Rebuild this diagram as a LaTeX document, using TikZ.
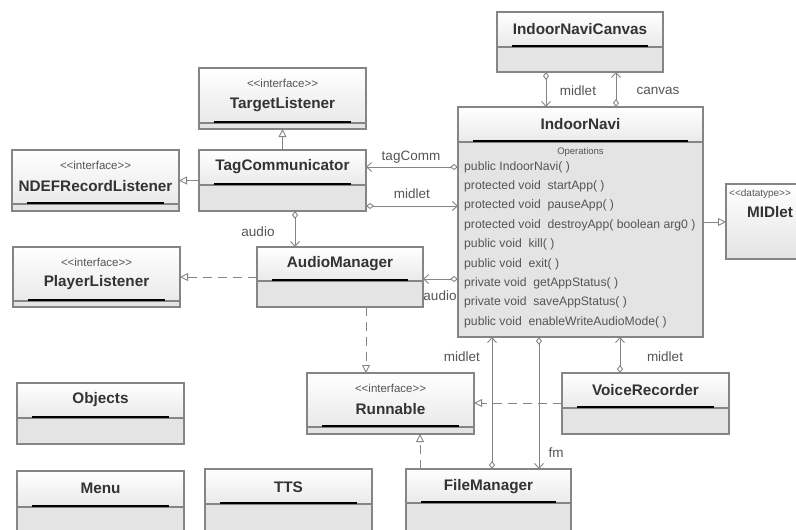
\documentclass[tikz,border=0pt]{standalone}
\usepackage{fontspec}
\setmainfont{Liberation Sans}
\usetikzlibrary{arrows.meta,calc,positioning}

\definecolor{boxgray}{HTML}{E4E4E4}
\definecolor{linegray}{HTML}{858585}
\definecolor{textgray}{HTML}{555555}

\tikzset{
  classbox/.style={draw=linegray, line width=1.2pt, fill=boxgray, anchor=north west,
    inner sep=0pt, outer sep=0pt},
  classname/.style={font=\fontsize{15.3}{17}\selectfont\bfseries, text=black!80},
  stereo/.style={font=\fontsize{11.5}{13}\selectfont, text=textgray},
  method/.style={font=\fontsize{12.2}{14}\selectfont, text=textgray, anchor=west, inner sep=0pt},
  rolelabel/.style={font=\fontsize{13.5}{15}\selectfont, text=textgray},
  conn/.style={draw=linegray, line width=0.9pt},
  assoc/.style={conn, {Diamond[open,fill=white,length=8pt,width=6pt]}-{Straight Barb[length=5pt,width=9pt]}},
  inherit/.style={conn, -{Triangle[open,fill=white,length=8pt,width=8pt]}},
  realize/.style={inherit, dash pattern=on 9pt off 6pt}
}

% box with name part of height #6
\newcommand{\umlbox}[6]{%
  \node[classbox, minimum width=#4pt, minimum height=#5pt] (#1) at (#2,#3) {};
  \shade[top color=white, bottom color=boxgray!80] (#1.north west) rectangle ($(#1.north east)+(0,#6)$);
  \draw[linegray, line width=1.2pt] ($(#1.north west)+(0,#6)$) -- ($(#1.north east)+(0,#6)$);
  \draw[line width=2.6pt] ($(#1.north west)+(15,#6-1.2)$) -- ($(#1.north east)+(-15,#6-1.2)$);
  \draw[linegray, line width=1.2pt] (#1.north west) rectangle (#1.south east);
}

\begin{document}
\begin{tikzpicture}[x=1pt,y=-1pt]
  \useasboundingbox[fill=white] (0,0) rectangle (796,530);

  % classes
  \umlbox{canvas}{497}{12}{166}{60}{35}
  \node[classname] (canvas-name) at ($(canvas.north)+(0,17)$) {IndoorNaviCanvas};

  \umlbox{navi}{458}{107}{245}{230}{35}
  \node[classname] (navi-name) at ($(navi.north)+(0,17)$) {IndoorNavi};
  \node[stereo, font=\fontsize{9.5}{11}\selectfont] (navi-ops) at ($(navi.north)+(0,45)$) {Operations};
  \foreach \m [count=\i] in {public IndoorNavi( ),
      protected void\ \ startApp( ),
      protected void\ \ pauseApp( ),
      protected void\ \ destroyApp( boolean arg0 ),
      public void\ \ kill( ),
      public void\ \ exit( ),
      private void\ \ getAppStatus( ),
      private void\ \ saveAppStatus( ),
      public void\ \ enableWriteAudioMode( )}
    \node[method] (navi-m\i) at ($(navi.north west)+(6,60+19.4*\i-19.4)$) {\m};

  \umlbox{target}{199}{68}{167}{61}{55}
  \node[stereo] (target-st) at ($(target.north)+(0,15.5)$) {{<}{<}interface{>}{>}};
  \node[classname] (target-name) at ($(target.north)+(0,36.5)$) {TargetListener};

  \umlbox{tagcomm}{199}{150}{167}{61}{35}
  \node[classname] (tagcomm-name) at ($(tagcomm.north)+(0,17)$) {TagCommunicator};

  \umlbox{ndef}{12}{150}{167}{61}{54}
  \node[stereo] (ndef-st) at ($(ndef.north)+(0,15.5)$) {{<}{<}interface{>}{>}};
  \node[classname] (ndef-name) at ($(ndef.north)+(0,36.5)$) {NDEFRecordListener};

  \umlbox{audio}{257}{247}{166}{60}{34}
  \node[classname] (audio-name) at ($(audio.north)+(0,16.5)$) {AudioManager};

  \umlbox{player}{13}{247}{167}{60}{54}
  \node[stereo] (player-st) at ($(player.north)+(0,15)$) {{<}{<}interface{>}{>}};
  \node[classname] (player-name) at ($(player.north)+(0,35.5)$) {PlayerListener};

  \umlbox{runnable}{307}{373}{167}{61}{54}
  \node[stereo] (runnable-st) at ($(runnable.north)+(0,15)$) {{<}{<}interface{>}{>}};
  \node[classname] (runnable-name) at ($(runnable.north)+(0,36)$) {Runnable};

  \umlbox{voice}{562}{373}{167}{61}{35}
  \node[classname] (voice-name) at ($(voice.north)+(0,17.5)$) {VoiceRecorder};

  \umlbox{objects}{17}{383}{167}{61}{35}
  \node[classname] (objects-name) at ($(objects.north)+(0,17)$) {Objects};

  \umlbox{menu}{17}{471}{167}{72}{36}
  \node[classname] (menu-name) at ($(menu.north)+(0,17)$) {Menu};

  \umlbox{tts}{205}{469}{167}{72}{35}
  \node[classname] (tts-name) at ($(tts.north)+(0,18)$) {TTS};

  \umlbox{files}{406}{469}{165}{72}{34}
  \node[classname] (files-name) at ($(files.north)+(0,18)$) {FileManager};

  % datatype, no compartments
  \node[classbox, minimum width=88pt, minimum height=75pt] (midlet) at (726,184) {};
  \shade[top color=white, bottom color=boxgray] (midlet.north west) rectangle (midlet.south east);
  \draw[linegray, line width=1.2pt] (midlet.north west) rectangle (midlet.south east);
  \node[stereo, font=\fontsize{10}{12}\selectfont, anchor=west, inner sep=0pt] (midlet-st)
    at ($(midlet.north west)+(3,10)$) {{<}{<}datatype{>}{>}};
  \node[classname] (midlet-name) at ($(midlet.north west)+(44,28)$) {MIDlet};

  % associations
  \draw[assoc] ($(canvas.south west)+(49,0)$) -- (navi.north -| {$(canvas.south west)+(49,0)$});
  \draw[assoc] ($(navi.north west)+(158,0)$) -- (canvas.south -| {$(navi.north west)+(158,0)$});
  \draw[assoc] ($(navi.north west)+(0,60)$) -- (tagcomm.east |- {$(navi.north west)+(0,60)$});
  \draw[assoc] ($(tagcomm.south east)+(0,-5)$) -- (navi.west |- {$(tagcomm.south east)+(0,-5)$});
  \draw[assoc] ($(tagcomm.south west)+(96,0)$) -- (audio.north -| {$(tagcomm.south west)+(96,0)$});
  \draw[assoc] ($(navi.north west)+(0,172)$) -- (audio.east |- {$(navi.north west)+(0,172)$});
  \draw[assoc] ($(voice.north west)+(58,0)$) -- (navi.south -| {$(voice.north west)+(58,0)$});
  \draw[assoc] ($(files.north west)+(86,0)$) -- (navi.south -| {$(files.north west)+(86,0)$});
  \draw[assoc] ($(navi.south west)+(81,0)$) -- (files.north -| {$(navi.south west)+(81,0)$});

  % generalisation and realisation
  \draw[inherit] ($(navi.north east)+(0,115)$) -- (midlet.west |- {$(navi.north east)+(0,115)$});
  \draw[inherit] (tagcomm.north) -- (target.south);
  \draw[inherit] (tagcomm.west) -- (ndef.east);
  \draw[realize] (audio.west) -- (player.east);
  \draw[realize] ($(audio.south west)+(109,0)$) -- (runnable.north -| {$(audio.south west)+(109,0)$});
  \draw[realize] ($(voice.north west)+(0,30)$) -- (runnable.east |- {$(voice.north west)+(0,30)$});
  \draw[realize] ($(files.north west)+(14,0)$) -- (runnable.south -| {$(files.north west)+(14,0)$});

  % role names
  \node[rolelabel] (lbl-midlet1) at (578,91) {midlet};
  \node[rolelabel] (lbl-canvas) at (658,91) {canvas};
  \node[rolelabel] (lbl-tagcomm) at (411,157) {tagComm};
  \node[rolelabel] (lbl-midlet2) at (412,194) {midlet};
  \node[rolelabel] (lbl-audio1) at (258,232) {audio};
  \node[rolelabel] (lbl-audio2) at (440,296) {audio};
  \node[rolelabel] (lbl-midlet3) at (462,357) {midlet};
  \node[rolelabel] (lbl-midlet4) at (665,357) {midlet};
  \node[rolelabel] (lbl-fm) at (556,453) {fm};
\end{tikzpicture}
\end{document}
